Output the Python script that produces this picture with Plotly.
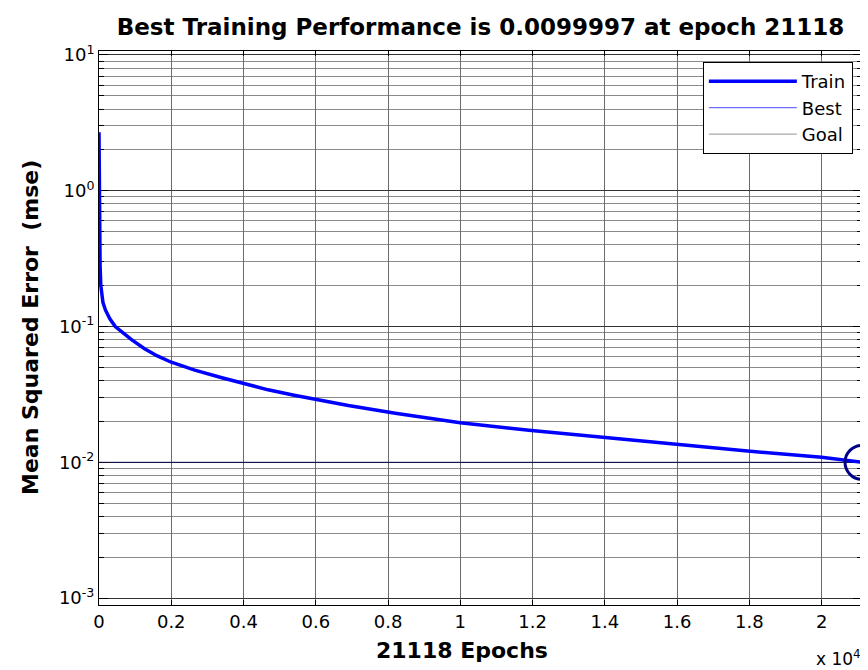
import plotly.graph_objects as go
import numpy as np

# ---- data ----
epochs = [0, 5, 15, 30, 50, 80, 110, 180, 300, 450, 650, 900, 1250, 1600,
          2000, 2650, 3400, 3950, 4680, 5400, 6000, 6900, 8200, 10000, 11900,
          13950, 15950, 17950, 20000, 21118]
train_mse = [2.70, 1.2, 0.45, 0.28, 0.20, 0.165, 0.150, 0.132, 0.114, 0.100,
             0.090, 0.080, 0.0690, 0.0610, 0.0546, 0.0478, 0.0420, 0.0382,
             0.0342, 0.0312, 0.0290, 0.0262, 0.0230, 0.0196, 0.0172, 0.0152,
             0.0136, 0.0121, 0.0109, 0.0099997]
best_epoch = 21118
best_perf = 0.0099997
goal = 0.01
x_limits = [0, 21118]
y_limits = [0.000890, 10.7]

x_tickvals = [0, 2000, 4000, 6000, 8000, 10000, 12000, 14000, 16000, 18000, 20000]
x_ticktext = ["0", "0.2", "0.4", "0.6", "0.8", "1", "1.2", "1.4", "1.6", "1.8", "2"]
y_tickvals = [1e-3, 1e-2, 1e-1, 1e0, 1e1]
y_ticktext = ["10<sup>-3</sup>", "10<sup>-2</sup>", "10<sup>-1</sup>",
              "10<sup>0</sup>", "10<sup>1</sup>"]
y_minorvals = [m * 10.0 ** e for e in range(-3, 1) for m in range(2, 10)]

title_text = "Best Training Performance is 0.0099997 at epoch 21118"
xlabel = "21118 Epochs"
ylabel = "Mean Squared Error&nbsp; (mse)"

FONT = "DejaVu Sans"
# page body has an 8px margin: figure is placed at (8, 8)
FIG_W, FIG_H = 860, 662

fig = go.Figure()

# goal line (plot)
fig.add_trace(go.Scatter(x=x_limits, y=[goal, goal], mode="lines",
                         line=dict(color="#10104a", width=1),
                         showlegend=False, hoverinfo="skip"))
# train
fig.add_trace(go.Scatter(x=epochs, y=train_mse, mode="lines", name="Train",
                         line=dict(color="#0000ff", width=3.5)))
# best vertical line
fig.add_trace(go.Scatter(x=[best_epoch, best_epoch], y=y_limits, mode="lines",
                         name="Best", line=dict(color="#6f6fff", width=1.2)))
# goal legend entry
fig.add_trace(go.Scatter(x=[None], y=[None], mode="lines", name="Goal",
                         line=dict(color="#a8a8a8", width=1.2)))
# best circle
fig.add_trace(go.Scatter(x=[best_epoch], y=[best_perf], mode="markers",
                         marker=dict(symbol="circle-open", size=34, color="#000088",
                                     line=dict(color="#000088", width=3)),
                         showlegend=False, cliponaxis=True))

fig.update_layout(
    width=FIG_W, height=FIG_H,
    margin=dict(l=91, r=6, t=43, b=65),
    paper_bgcolor="white", plot_bgcolor="white",
    font=dict(family=FONT, size=18, color="black"),
    showlegend=True,
    legend=dict(x=0.988, xanchor="right", y=0.98, yanchor="top",
                bgcolor="white", bordercolor="black", borderwidth=1,
                font=dict(family=FONT, size=18), tracegroupgap=0,
                itemwidth=88),
    title=dict(text="<b>" + title_text + "</b>", x=0.5, xref="paper",
               y=1 - 19 / FIG_H, yanchor="middle", xanchor="center",
               font=dict(family=FONT, size=23, color="black")),
)

fig.update_xaxes(range=x_limits, tickmode="array", tickvals=x_tickvals,
                 ticktext=x_ticktext, ticks="inside", ticklen=5,
                 tickcolor="black", showline=True, linecolor="black",
                 linewidth=1, mirror="ticks", showgrid=True,
                 gridcolor="#6a6a6a", gridwidth=1, zeroline=False,
                 tickfont=dict(family=FONT, size=18))

fig.update_yaxes(type="log", range=[np.log10(y_limits[0]), np.log10(y_limits[1])],
                 tickmode="array", tickvals=y_tickvals, ticktext=y_ticktext,
                 ticks="inside", ticklen=9, tickcolor="black",
                 showline=True, linecolor="black", linewidth=1, mirror="ticks",
                 layer="below traces",
                 showgrid=True, gridcolor="#333333", gridwidth=1,
                 zeroline=False, tickfont=dict(family=FONT, size=18),
                 minor=dict(tickmode="array", tickvals=y_minorvals,
                            ticks="inside", ticklen=5, tickcolor="black",
                            showgrid=True, gridcolor="#8a8a8a", gridwidth=1))

fig.add_annotation(text="<b>" + ylabel + "</b>", xref="paper", yref="paper",
                   x=(30 - 99) / 763, y=0.5, textangle=-90, showarrow=False,
                   font=dict(family=FONT, size=22), xanchor="center", yanchor="middle")
fig.add_annotation(text="<b>" + xlabel + "</b>", xref="paper", yref="paper",
                   x=(462 - 99) / 763, y=(605 - 650) / 554, showarrow=False,
                   font=dict(family=FONT, size=22), xanchor="center", yanchor="middle")
fig.add_annotation(text="x 10<sup>4</sup>", xref="paper", yref="paper",
                   x=(838 - 99) / 763, y=(605 - 658) / 554, showarrow=False,
                   font=dict(family=FONT, size=17), xanchor="center", yanchor="middle")

fig.write_html("out.html")
